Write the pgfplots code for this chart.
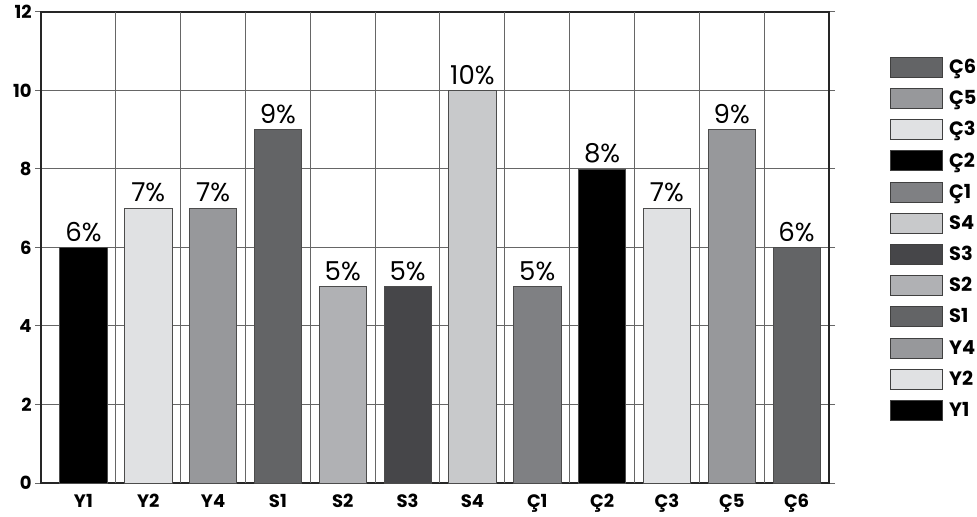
\documentclass[border=0pt]{standalone}
\usepackage{pgfplots}
\pgfplotsset{compat=1.18}
\usepackage{fontspec}
\setmainfont{Poppins}[BoldFont={Poppins Bold}]
\usetikzlibrary{calc}
\definecolor{cY1}{HTML}{000000}
\definecolor{cY2}{HTML}{E0E1E3}
\definecolor{cY4}{HTML}{97989B}
\definecolor{cS1}{HTML}{636466}
\definecolor{cS2}{HTML}{B0B1B4}
\definecolor{cS3}{HTML}{464649}
\definecolor{cS4}{HTML}{C8C9CB}
\definecolor{cC1}{HTML}{7F8083}
\definecolor{cC2}{HTML}{000000}
\definecolor{cC3}{HTML}{E0E1E3}
\definecolor{cC5}{HTML}{97989B}
\definecolor{cC6}{HTML}{636466}
\definecolor{gridc}{HTML}{666666}
\begin{document}
\begin{tikzpicture}[x=1pt,y=1pt]
\begin{axis}[
  name=ax,
  scale only axis,
  width=591pt, height=353.25pt,
  /pgf/number format/assume math mode=true,
  ybar, bar width=0.73, bar shift=0pt,
  xmin=-0.654, xmax=11.5,
  ymin=0, ymax=12,
  ytick={0,2,...,12},
  xtick={0,...,11},
  xticklabels={Y1,Y2,Y4,S1,S2,S3,S4,Ç1,Ç2,Ç3,Ç5,Ç6},
  extra x ticks={0.5,1.5,...,10.5},
  extra x tick labels={},
  extra x tick style={grid=major, major grid style={gridc, line width=0.75pt},
     major tick length=6pt, tick style={gridc, line width=0.75pt}, tick align=outside},
  major x tick style={draw=none},
  ymajorgrids, major grid style={gridc, line width=0.75pt},
  tick align=outside,
  ytick style={gridc, line width=0.75pt},
  major tick length=4.5pt,
  axis line style={black!85, line width=0.8pt},
  every tick label/.append style={font=\bfseries\fontsize{13.5}{15}\selectfont, text=black},
  xticklabel style={yshift=-0.5pt},
  yticklabel style={xshift=1pt},
  nodes near coords={\pgfmathprintnumber\pgfplotspointmeta\%},
  every node near coord/.append style={font=\fontsize{19.5}{22}\selectfont, text=black, yshift=1pt},
  clip=false,
  legend reversed,
  legend style={at={(1.0774,0.9163)}, anchor=north west, draw=none, fill=none,
     inner sep=0pt, row sep=0pt, column sep=4.5pt,
     nodes={inner sep=0pt, anchor=west},
     font=\bfseries\fontsize{14.5}{16}\selectfont},
  legend cell align=left,
  legend image code/.code={
     \path[fill=none, draw=none] (0,-11.7pt) rectangle (39pt,11.7pt);
     \draw[#1, draw=black!75, line width=0.7pt] (0,-7.5pt) rectangle (39pt,7.5pt);
  },
]
\addplot[fill=cY1, draw=black!70] coordinates {(0,6)};
\addlegendentry{Y1}
\addplot[fill=cY2, draw=black!70] coordinates {(1,7)};
\addlegendentry{Y2}
\addplot[fill=cY4, draw=black!70] coordinates {(2,7)};
\addlegendentry{Y4}
\addplot[fill=cS1, draw=black!70] coordinates {(3,9)};
\addlegendentry{S1}
\addplot[fill=cS2, draw=black!70] coordinates {(4,5)};
\addlegendentry{S2}
\addplot[fill=cS3, draw=black!70] coordinates {(5,5)};
\addlegendentry{S3}
\addplot[fill=cS4, draw=black!70] coordinates {(6,10)};
\addlegendentry{S4}
\addplot[fill=cC1, draw=black!70] coordinates {(7,5)};
\addlegendentry{Ç1}
\addplot[fill=cC2, draw=black!70] coordinates {(8,8)};
\addlegendentry{Ç2}
\addplot[fill=cC3, draw=black!70] coordinates {(9,7)};
\addlegendentry{Ç3}
\addplot[fill=cC5, draw=black!70] coordinates {(10,9)};
\addlegendentry{Ç5}
\addplot[fill=cC6, draw=black!70] coordinates {(11,6)};
\addlegendentry{Ç6}
\end{axis}
\pgfresetboundingbox
\path ($(ax.south west)+(-30.75pt,-25.5pt)$) rectangle +(732.75pt,387.75pt);
\end{tikzpicture}
\end{document}
